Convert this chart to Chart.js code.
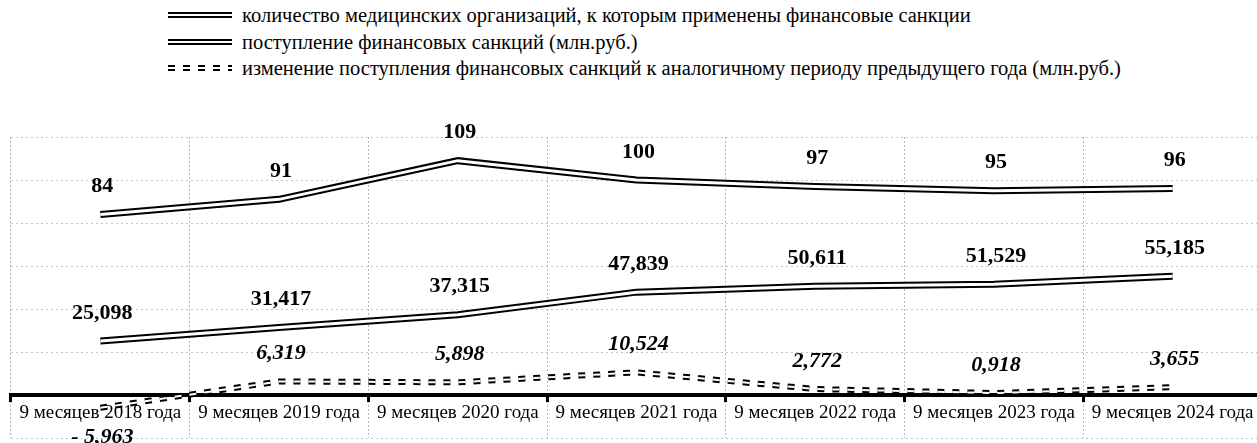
<!DOCTYPE html>
<html>
<head>
<meta charset="utf-8">
<script src="https://cdn.jsdelivr.net/npm/chart.js@4"></script>
<style>
	html, body { margin: 0; padding: 0; background: #fff; }
	body { width: 1257px; height: 443px; overflow: hidden; position: relative; font-family: "Liberation Serif", "Times New Roman", serif; }
	#legend { position: absolute; left: 0; top: 0; }
	.row { position: absolute; left: 168px; height: 26px; display: flex; align-items: center; white-space: nowrap; font-size: 20.5px; color: #000; }
	.sample { width: 64px; margin-right: 10px; }
	.double { border-top: 6px double #000; height: 0; }
	.dash { height: 2px; background: repeating-linear-gradient(90deg, #000 0 7px, transparent 7px 15px); }
	.dash + .dash { margin-top: 2px; }
	#container { position: absolute; left: 0; top: 0; width: 1262px; height: 443px; }
</style>
</head>
<body>
<div id="legend"></div>
<div id="container"><canvas id="chart"></canvas></div>
<script>
// данные графика
const categories = [
	"9 месяцев 2018 года",
	"9 месяцев 2019 года",
	"9 месяцев 2020 года",
	"9 месяцев 2021 года",
	"9 месяцев 2022 года",
	"9 месяцев 2023 года",
	"9 месяцев 2024 года"
]
const orgCount = [84, 91, 109, 100, 97, 95, 96]
const sanctions = [25.098, 31.417, 37.315, 47.839, 50.611, 51.529, 55.185]
const sanctionsChange = [-5.963, 6.319, 5.898, 10.524, 2.772, 0.918, 3.655]

const seriesNames = [
	"количество медицинских организаций, к которым применены финансовые санкции",
	"поступление финансовых санкций (млн.руб.)",
	"изменение поступления финансовых санкций к аналогичному периоду предыдущего года (млн.руб.)"
]

const yMin = -20
const yMax = 120
const yStep = 20

const fmtInt = v => String(v)
const fmtDec = v => (v < 0 ? "- " : "") + Math.abs(v).toFixed(3).replace(".", ",")

/// легенда (html)
const legendRows = [
	{ text: seriesNames[0], top: 2, kind: "double" },
	{ text: seriesNames[1], top: 29, kind: "double" },
	{ text: seriesNames[2], top: 55, kind: "dash" }
]
legendRows.map(item => {
	const row = document.createElement("div")
	row.className = "row"
	row.style.top = item.top + "px"
	const sample = document.createElement("div")
	sample.className = "sample"
	if (item.kind == "double") {
		const l = document.createElement("div")
		l.className = "double"
		sample.appendChild(l)
	} else {
		sample.innerHTML = '<div class="dash"></div><div class="dash"></div>'
	}
	const label = document.createElement("span")
	label.innerText = item.text
	row.appendChild(sample)
	row.appendChild(label)
	document.getElementById("legend").appendChild(row)
})

// двойная линия: поверх черной рисуем белую потоньше
const doubleLine = {
	id: "doubleLine",
	afterDatasetDraw(chart, args) {
		const ds = chart.data.datasets[args.index]
		if (!ds.innerWidth) return
		const pts = args.meta.data
		const ctx = chart.ctx
		ctx.save()
		ctx.strokeStyle = "#fff"
		ctx.lineWidth = ds.innerWidth
		ctx.setLineDash(ds.borderDash || [])
		ctx.beginPath()
		pts.forEach((p, i) => i ? ctx.lineTo(p.x, p.y) : ctx.moveTo(p.x, p.y))
		ctx.stroke()
		ctx.restore()
	}
}

// подписи значений
const valueLabels = {
	id: "valueLabels",
	afterDatasetsDraw(chart) {
		const ctx = chart.ctx
		chart.data.datasets.forEach((ds, i) => {
			const meta = chart.getDatasetMeta(i)
			ctx.save()
			ctx.font = ds.labelFont
			ctx.fillStyle = "#000"
			ctx.textAlign = "center"
			ctx.textBaseline = "middle"
			meta.data.forEach((p, j) => {
				const v = ds.data[j]
				const dy = v < 0 ? 29 : -28
				ctx.fillText(ds.format(v), p.x + 2, p.y + dy)
			})
			ctx.restore()
		})
	}
}

new Chart(document.getElementById("chart"), {
	type: "line",
	data: {
		labels: categories,
		datasets: [
			{
				label: seriesNames[0],
				data: orgCount,
				borderColor: "#000",
				borderWidth: 7,
				innerWidth: 3,
				pointRadius: 0,
				tension: 0,
				labelFont: "bold 22px 'Liberation Serif'",
				format: fmtInt
			},
			{
				label: seriesNames[1],
				data: sanctions,
				borderColor: "#000",
				borderWidth: 7,
				innerWidth: 3,
				pointRadius: 0,
				tension: 0,
				labelFont: "bold 22px 'Liberation Serif'",
				format: fmtDec
			},
			{
				label: seriesNames[2],
				data: sanctionsChange,
				borderColor: "#000",
				borderWidth: 6,
				innerWidth: 2,
				borderDash: [7, 8],
				pointRadius: 0,
				tension: 0,
				labelFont: "italic bold 22px 'Liberation Serif'",
				format: fmtDec
			}
		]
	},
	options: {
		responsive: true,
		maintainAspectRatio: false,
		animation: false,
		layout: { padding: { top: 137, left: 11, right: 0, bottom: 5 } },
		plugins: {
			legend: { display: false },
			tooltip: { enabled: false }
		},
		scales: {
			x: {
				position: { y: 0 },
				offset: true,
				grid: {
					offset: true,
					color: "#b8b8b8",
					lineWidth: 1,
					tickColor: "#000",
					tickWidth: 3,
					tickLength: 5
				},
				border: { display: true, color: "#000", width: 4, dash: [2, 2] },
				ticks: {
					color: "#000",
					font: { family: "'Liberation Serif'", size: 19 },
					padding: 2,
					maxRotation: 0,
					autoSkip: false
				}
			},
			y: {
				min: yMin,
				max: yMax,
				grid: {
					drawTicks: false,
					color: c => c.tick && c.tick.value === 0 ? "rgba(0,0,0,0)" : "#c4c4c4"
				},
				border: { display: false, dash: [2, 3] },
				ticks: { display: false, stepSize: yStep }
			}
		}
	},
	plugins: [doubleLine, valueLabels]
})
</script>
</body>
</html>
